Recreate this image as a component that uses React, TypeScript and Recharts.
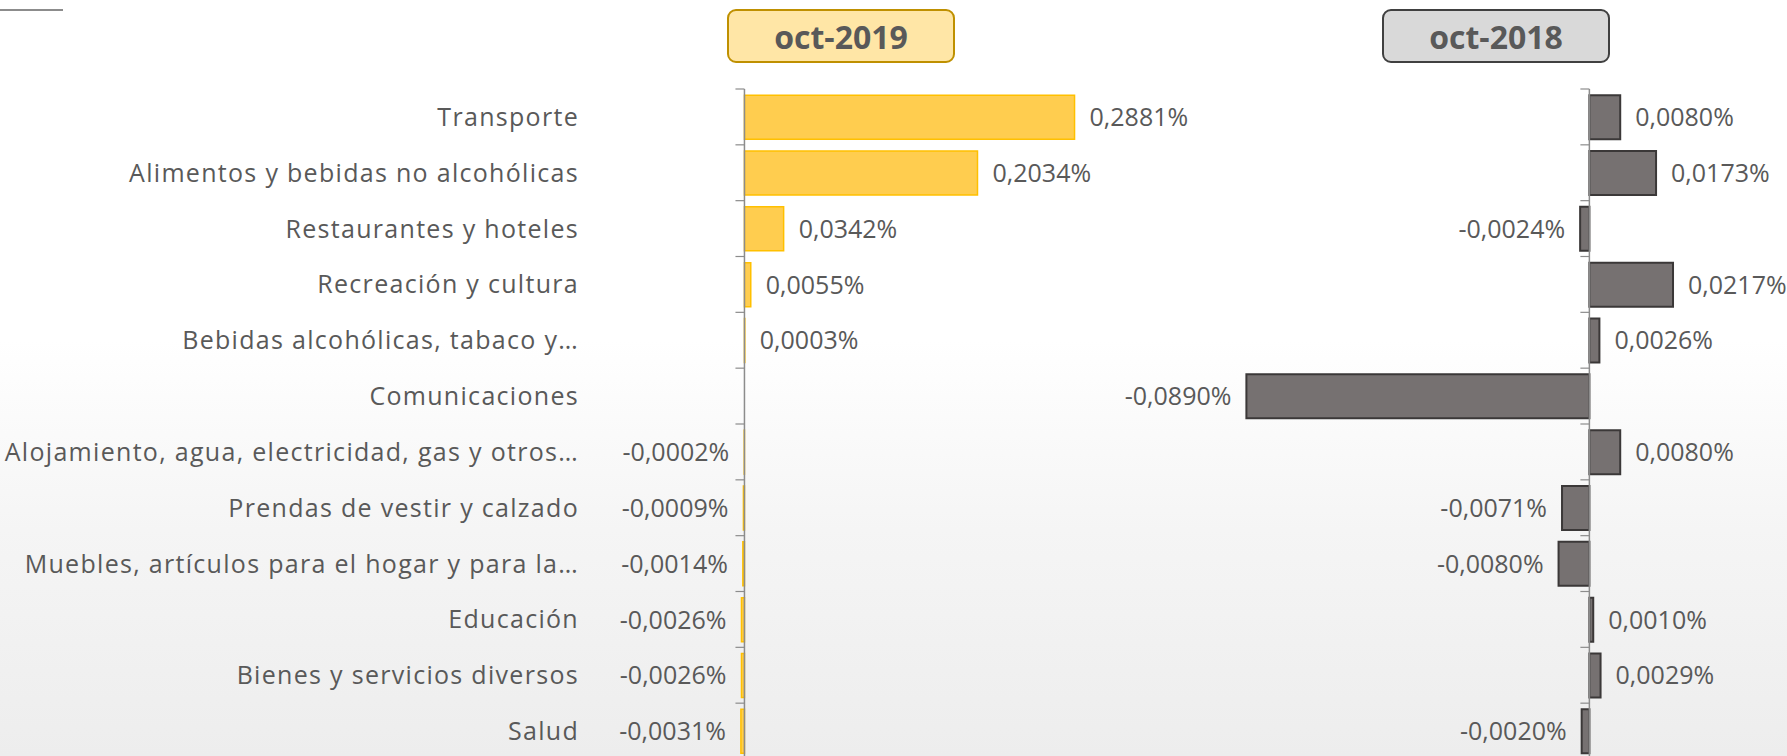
import React from 'react';
import { BarChart, Bar, XAxis, YAxis, ReferenceLine, LabelList } from 'recharts';

const categories = [
  'Transporte',
  'Alimentos y bebidas no alcohólicas',
  'Restaurantes y hoteles',
  'Recreación y cultura',
  'Bebidas alcohólicas, tabaco y…',
  'Comunicaciones',
  'Alojamiento, agua, electricidad, gas y otros…',
  'Prendas de vestir y calzado',
  'Muebles, artículos para el hogar y para la…',
  'Educación',
  'Bienes y servicios diversos',
  'Salud',
];
const oct2019 = [0.2881, 0.2034, 0.0342, 0.0055, 0.0003, 0.0, -0.0002, -0.0009, -0.0014, -0.0026, -0.0026, -0.0031];
const oct2018 = [0.008, 0.0173, -0.0024, 0.0217, 0.0026, -0.089, 0.008, -0.0071, -0.008, 0.001, 0.0029, -0.002];
const seriesTitles = ['oct-2019', 'oct-2018'];

const data = categories.map((c, i) => ({ category: c, v2019: oct2019[i], v2018: oct2018[i] }));

const FONT = "'Open Sans', 'Noto Sans', sans-serif";
const TEXT = '#595959';

const fmt = (v: number) => v.toFixed(4).replace('.', ',') + '%';

const makeAxisShape = (count: number) => (props: any) => {
  const { x1, y1, y2 } = props;
  const top = Math.min(y1, y2);
  const bottom = Math.max(y1, y2);
  const step = (bottom - top) / count;
  return (
    <g>
      <line x1={x1} y1={top} x2={x1} y2={bottom} stroke="#8C8C8C" strokeWidth={1.5} />
      {Array.from({ length: count + 1 }, (_, i) => (
        <line key={i} x1={x1 - 9} x2={x1} y1={top + i * step} y2={top + i * step} stroke="#8C8C8C" strokeWidth={1.2} />
      ))}
    </g>
  );
};

const makeLabel = (gap: number) => (props: any) => {
  const vb = props.viewBox || props;
  const x = Number(props.x ?? vb.x);
  const y = Number(props.y ?? vb.y);
  const w = Number(props.width ?? vb.width);
  const h = Number(props.height ?? vb.height);
  const value = Number(props.value);
  const left = Math.min(x, x + w);
  const right = Math.max(x, x + w);
  const neg = value < 0;
  return (
    <text
      x={neg ? left - gap : right + gap}
      y={y + h / 2}
      dy="0.36em"
      textAnchor={neg ? 'end' : 'start'}
      fill={TEXT}
      fontSize={25}
      fontFamily={FONT}
    >
      {fmt(value)}
    </text>
  );
};

const CategoryTick = (props: any) => {
  const { x, y, payload } = props;
  return (
    <text
      x={x}
      y={y}
      dy="0.36em"
      textAnchor="end"
      fill={TEXT}
      fontSize={25}
      letterSpacing={1.3}
      fontFamily={FONT}
    >
      {payload.value}
    </text>
  );
};

const Header = ({ left, title, bg, border }: { left: number; title: string; bg: string; border: string }) => (
  <div
    style={{
      position: 'absolute',
      left,
      top: 9,
      width: 228,
      height: 54,
      boxSizing: 'border-box',
      border: `2.5px solid ${border}`,
      borderRadius: 9,
      background: bg,
      color: TEXT,
      fontFamily: FONT,
      fontWeight: 700,
      fontSize: 32,
      display: 'flex',
      alignItems: 'center',
      justifyContent: 'center',
    }}
  >
    {title}
  </div>
);

export default function App() {
  const n = categories.length;
  return (
    <div
      style={{
        position: 'absolute',
        left: 0,
        top: 0,
        width: 1787,
        height: 756,
        overflow: 'hidden',
        background: 'linear-gradient(to bottom, #ffffff 0%, #ffffff 45%, #f5f5f5 70%, #ededed 100%)',
      }}
    >
      <div style={{ position: 'absolute', left: 0, top: 9, width: 63, height: 2, background: '#8C8C8C' }} />
      <Header left={727} title={seriesTitles[0]} bg="#FFE6A6" border="#BF9000" />
      <Header left={1382} title={seriesTitles[1]} bg="#D9D9D9" border="#404040" />

      <div style={{ position: 'absolute', left: 0, top: 0 }}>
        <BarChart
          width={1200}
          height={770}
          data={data}
          layout="vertical"
          margin={{ top: 89, right: 66, left: 0, bottom: 11 }}
          barCategoryGap="11%"
        >
          <XAxis type="number" hide domain={[-0.01, 0.34]} allowDataOverflow />
          <YAxis
            type="category"
            dataKey="category"
            width={733}
            axisLine={false}
            tickLine={false}
            tickSize={0}
            tickMargin={154}
            tick={<CategoryTick />}
            interval={0}
          />
          <Bar dataKey="v2019" fill="#FFCD4F" stroke="#FFC000" strokeWidth={1.5} isAnimationActive={false}>
            <LabelList dataKey="v2019" content={makeLabel(15)} />
          </Bar>
          <ReferenceLine x={0} shape={makeAxisShape(n)} />
        </BarChart>
      </div>

      <div style={{ position: 'absolute', left: 1000, top: 0 }}>
        <BarChart
          width={787}
          height={770}
          data={data}
          layout="vertical"
          margin={{ top: 89, right: 82, left: 204, bottom: 11 }}
          barCategoryGap="11%"
        >
          <XAxis type="number" hide domain={[-0.1, 0.03]} allowDataOverflow />
          <YAxis type="category" dataKey="category" hide />
          <Bar dataKey="v2018" fill="#767171" stroke="#3B3838" strokeWidth={2} isAnimationActive={false}>
            <LabelList dataKey="v2018" content={makeLabel(15)} />
          </Bar>
          <ReferenceLine x={0} shape={makeAxisShape(n)} />
        </BarChart>
      </div>
    </div>
  );
}
